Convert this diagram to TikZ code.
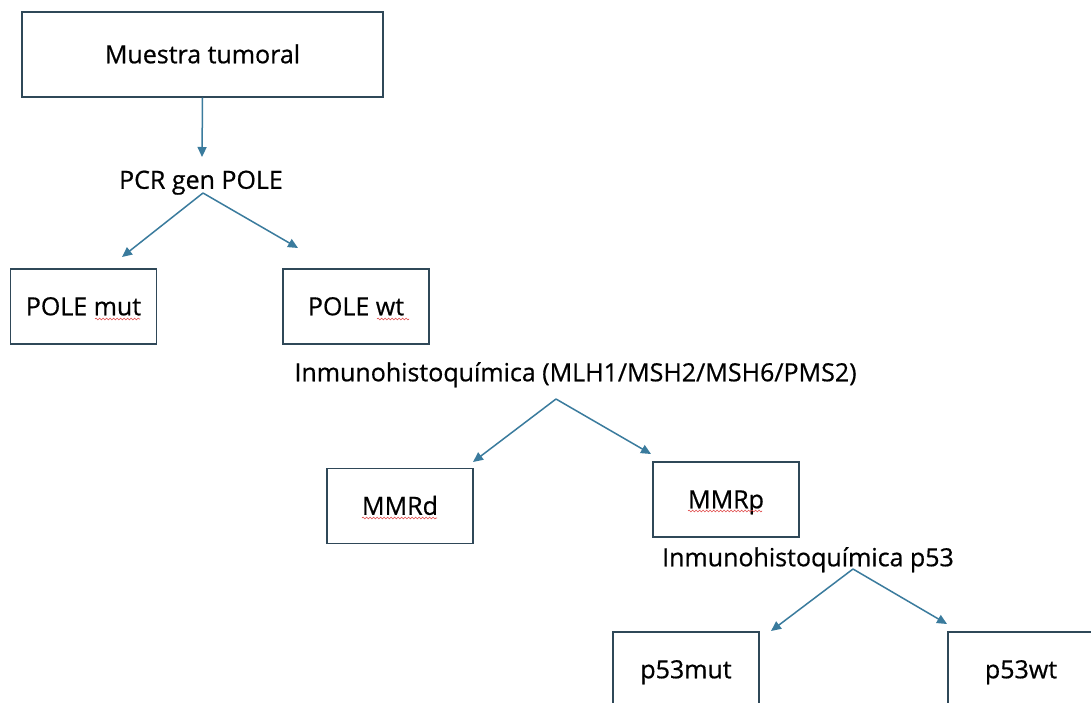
\documentclass[tikz,border=0pt]{standalone}
\usepackage{fontspec}
\setmainfont{Open Sans}[FakeBold=0.6]
\usetikzlibrary{arrows.meta,decorations.pathmorphing}
\definecolor{boxline}{HTML}{2F4858}
\definecolor{arrowblue}{HTML}{3A7B9D}
\definecolor{spellred}{HTML}{E04848}
\begin{document}
\begin{tikzpicture}[x=1pt, y=-1pt,
  every node/.style={font=\fontsize{25}{29}\selectfont},
  box/.style={draw=boxline, line width=1.4pt, minimum width=146pt, minimum height=75pt, inner sep=0pt, text height=17.5pt, text depth=0pt},
  lbl/.style={inner sep=0pt, text height=17.5pt, text depth=0pt},
  arr/.style={draw=arrowblue, line width=1.5pt, -{Triangle[length=10pt,width=9pt]}},
  squig/.style={draw=spellred, line width=0.6pt, decorate, decoration={snake, amplitude=0.9pt, segment length=3.5pt}}
]
  \clip (0,0) rectangle (1091,702);
  \fill[white] (0,0) rectangle (1091,702);
  % boxes and labels
  \node[box, minimum width=361pt, minimum height=85pt] (muestra) at (202.5,54.5) {Muestra tumoral};
  \node[lbl] (pcr) at (201,180) {PCR gen POLE};
  \node[box] (polemut) at (83.5,306.5) {POLE mut};
  \node[box] (polewt) at (356,306.5) {POLE wt};
  \node[lbl] (ihq) at (575.5,372.5) {Inmunohistoquímica (MLH1/MSH2/MSH6/PMS2)};
  \node[box] (mmrd) at (400,506) {MMRd};
  \node[box] (mmrp) at (726,499.5) {MMRp};
  \node[lbl] (ihqp) at (808,557.5) {Inmunohistoquímica p53};
  \node[box] (pmut) at (686,669.5) {p53mut};
  \node[box] (pwt) at (1021,669.5) {p53wt};
  % arrow ends
  \coordinate (pcrtop) at (202,157);
  \coordinate (pcrfork) at (203,193);
  \coordinate (mutend) at (122,257);
  \coordinate (wtend) at (298,248);
  \coordinate (ihqfork) at (556,399);
  \coordinate (mmrdend) at (473,462);
  \coordinate (mmrpend) at (651,454);
  \coordinate (p53fork) at (853,569);
  \coordinate (p53mutend) at (771,631);
  \coordinate (p53wtend) at (947,624);
  % connectors
  \draw[arr] (muestra.south) -- (pcrtop);
  \draw[arr] (pcrfork) -- (mutend);
  \draw[arr] (pcrfork) -- (wtend);
  \draw[arr] (ihqfork) -- (mmrdend);
  \draw[arr] (ihqfork) -- (mmrpend);
  \draw[arr] (p53fork) -- (p53mutend);
  \draw[arr] (p53fork) -- (p53wtend);
  % spell-check marks
  \draw[squig] (95,319) -- (140,319);
  \draw[squig] (377,319) -- (409,319);
  \draw[squig] (362,518) -- (437,518);
  \draw[squig] (688,511) -- (762,511);
\end{tikzpicture}
\end{document}
